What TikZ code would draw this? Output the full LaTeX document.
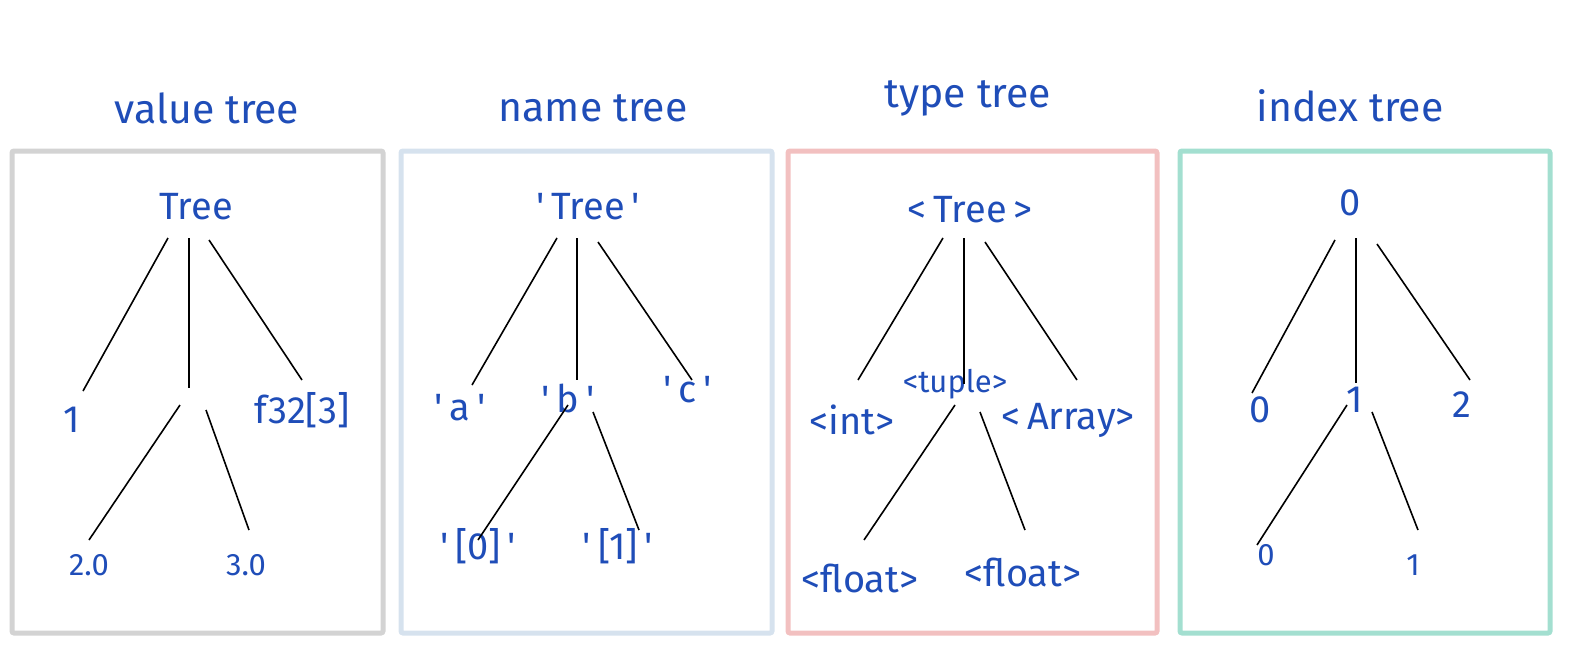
\documentclass[tikz,border=0pt]{standalone}
\usepackage{fontspec}
\setmainfont{Fira Sans}
\definecolor{ink}{HTML}{1F4DB8}
\definecolor{boxgray}{HTML}{D3D3D3}
\definecolor{boxblue}{HTML}{D6E2EE}
\definecolor{boxpink}{HTML}{F2C0C0}
\definecolor{boxteal}{HTML}{A3DFD0}
\newcommand{\q}{\textquotesingle}
\newcommand{\gp}{\hspace{0.18em}}
\begin{document}
\begin{tikzpicture}[x=1pt,y=-1pt,
  frame/.style={line width=5pt,rounded corners=2pt},
  lbl/.style={text=ink,font=\fontsize{38}{40}\selectfont,inner sep=0pt},
  sml/.style={text=ink,font=\fontsize{31}{34}\selectfont,inner sep=0pt},
  ttl/.style={text=ink,font=\fontsize{41}{44}\selectfont,inner sep=0pt},
  edge/.style={line width=1.6pt,black}]
\useasboundingbox (0,0) rectangle (1569,661);
% frames
\draw[frame,boxgray] (12,151) rectangle (383,633);
\draw[frame,boxblue] (401,151) rectangle (772,633);
\draw[frame,boxpink] (788,151) rectangle (1157,633);
\draw[frame,boxteal] (1180,151) rectangle (1550,633);
% titles
\node[ttl] (t1) at (207,108) {value tree};
\node[ttl] (t2) at (593,108) {name tree};
\node[ttl] (t3) at (968,98) {type tree};
\node[ttl] (t4) at (1350,106) {index tree};
% ---- value tree
\node[lbl] (r1) at (196,207) {Tree};
\node[lbl] (a1) at (72,420) {1};
\coordinate (b1) at (189,398);
\node[lbl] (c1) at (302,410) {f32[3]};
\node[sml] (d1) at (89,565) {2.0};
\node[sml] (e1) at (246,565) {3.0};
\draw[edge] ([shift={(-28,31)}]r1.center) -- ([shift={(11,-29)}]a1.center);
\draw[edge] ([shift={(-7,31)}]r1.center) -- ([shift={(0,-10)}]b1);
\draw[edge] ([shift={(13,33)}]r1.center) -- ([shift={(0,-30)}]c1.center);
\draw[edge] ([shift={(-9,7)}]b1) -- ([shift={(0,-25)}]d1.center);
\draw[edge] ([shift={(17,12)}]b1) -- ([shift={(3,-35)}]e1.center);
% ---- name tree
\node[lbl] (r2) at (588,207) {\q\gp Tree\gp\q};
\node[lbl] (a2) at (460,408) {\q\gp a\gp\q};
\node[lbl] (b2) at (568,398) {\q\gp b\gp\q};
\node[lbl] (c2) at (688,390) {\q\gp c\gp\q};
\node[lbl] (d2) at (478,546) {\q\gp[0]\gp\q};
\node[lbl] (e2) at (618,546) {\q\gp[1]\gp\q};
\draw[edge] ([shift={(-31,31)}]r2.center) -- ([shift={(12,-23)}]a2.center);
\draw[edge] ([shift={(-11,31)}]r2.center) -- ([shift={(9,-18)}]b2.center);
\draw[edge] ([shift={(10,35)}]r2.center) -- ([shift={(4,-10)}]c2.center);
\draw[edge] ([shift={(0,7)}]b2.center) -- ([shift={(0,-6)}]d2.center);
\draw[edge] ([shift={(25,14)}]b2.center) -- ([shift={(21,-16)}]e2.center);
% ---- type tree
\node[lbl] (r3) at (970,210) {<\gp Tree\gp>};
\node[lbl] (a3) at (852,420) {<int>};
\node[lbl,font=\fontsize{31}{34}\selectfont] (b3) at (955,384) {<tuple>};
\node[lbl] (c3) at (1068,420) {<\gp Array>};
\node[lbl] (d3) at (860,578) {<float>};
\node[lbl] (e3) at (1023,572) {<float>};
\draw[edge] ([shift={(-27,28)}]r3.center) -- ([shift={(6,-40)}]a3.center);
\draw[edge] ([shift={(-6,28)}]r3.center) -- ([shift={(9,0)}]b3.center);
\draw[edge] ([shift={(15,32)}]r3.center) -- ([shift={(9,-40)}]c3.center);
\draw[edge] ([shift={(0,21)}]b3.center) -- ([shift={(4,-38)}]d3.center);
\draw[edge] ([shift={(25,28)}]b3.center) -- ([shift={(2,-42)}]e3.center);
% ---- index tree
\node[lbl] (r4) at (1350,203) {0};
\node[lbl] (a4) at (1260,410) {0};
\node[lbl] (b4) at (1355,400) {1};
\node[lbl] (c4) at (1462,405) {2};
\node[sml] (d4) at (1266,555) {0};
\node[sml] (e4) at (1413,565) {1};
\draw[edge] ([shift={(-15,37)}]r4.center) -- ([shift={(-8,-17)}]a4.center);
\draw[edge] ([shift={(6,35)}]r4.center) -- ([shift={(1,-17)}]b4.center);
\draw[edge] ([shift={(27,41)}]r4.center) -- ([shift={(8,-25)}]c4.center);
\draw[edge] ([shift={(-8,5)}]b4.center) -- ([shift={(-9,-10)}]d4.center);
\draw[edge] ([shift={(17,12)}]b4.center) -- ([shift={(5,-35)}]e4.center);
\end{tikzpicture}
\end{document}
